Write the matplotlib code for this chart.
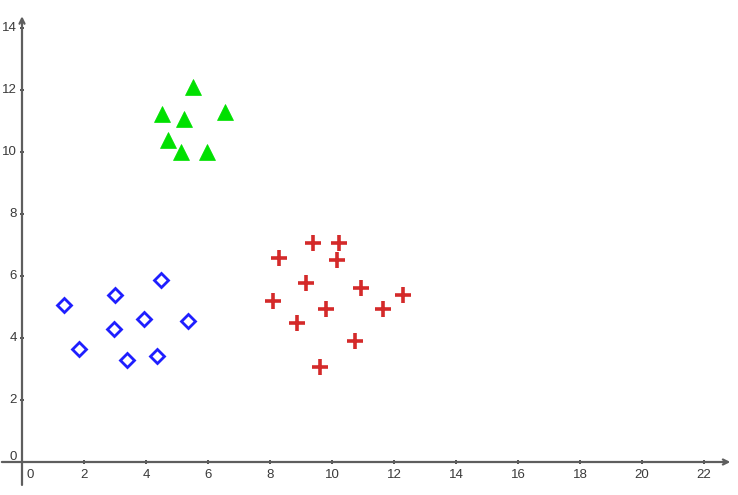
import matplotlib
matplotlib.use("Agg")
import matplotlib.pyplot as plt

# ---- data ----
blue_x = [1.36, 3.00, 4.47, 3.94, 5.35, 2.98, 1.84, 3.40, 4.35]
blue_y = [5.05, 5.39, 5.87, 4.60, 4.54, 4.28, 3.63, 3.30, 3.41]

green_x = [5.53, 4.53, 5.23, 6.54, 4.70, 5.12, 5.97]
green_y = [12.09, 11.24, 11.06, 11.30, 10.38, 9.99, 10.01]

red_x = [9.38, 10.24, 8.30, 10.15, 9.15, 10.93, 12.30, 8.09, 9.81, 11.65, 8.87, 10.75, 9.62]
red_y = [7.05, 7.08, 6.57, 6.52, 5.79, 5.62, 5.40, 5.18, 4.94, 4.94, 4.48, 3.90, 3.06]

xticks = [2, 4, 6, 8, 10, 12, 14, 16, 18, 20, 22]
yticks = [2, 4, 6, 8, 10, 12, 14]

# ---- figure ----
W, H = 738, 495
fig = plt.figure(figsize=(W / 100, H / 100), dpi=100)
ax = fig.add_axes([0, 0, 1, 1])
plt.rcParams['font.family'] = ['Liberation Sans', 'DejaVu Sans']

sx = 31.0
x0px, y0px = 22, 462
ax.set_xlim(-x0px / sx, (W - x0px) / sx)
ax.set_ylim(-(H - y0px) / sx, y0px / sx)

axis_col = '#5e5e5e'
for s in ax.spines.values():
    s.set_visible(False)

# axes lines with open arrows
xl, xr = -0.65, 22.85
yb, yt = -0.74, 14.38
ax.annotate('', xy=(xr, 0), xytext=(xl, 0),
            arrowprops=dict(arrowstyle='->', color=axis_col, lw=1.6,
                            shrinkA=0, shrinkB=0, mutation_scale=9))
ax.annotate('', xy=(0, yt), xytext=(0, yb),
            arrowprops=dict(arrowstyle='->', color=axis_col, lw=1.6,
                            shrinkA=0, shrinkB=0, mutation_scale=9))

# tick marks
ax.set_xticks([])
ax.set_yticks([])
ax.plot(xticks, [0] * len(xticks), linestyle='none', marker='|', ms=3,
        mew=1.2, color='#333333')
ax.plot([0] * len(yticks), yticks, linestyle='none', marker='_', ms=3,
        mew=1.2, color='#333333')

lab_col = '#3a3a3a'
fs = 9.5
for v in xticks:
    ax.annotate(str(v), (v, 0), xytext=(0, -7), textcoords='offset pixels',
                ha='center', va='top', fontsize=fs, color=lab_col)
for v in yticks:
    ax.annotate(str(v), (0, v), xytext=(-5, 0), textcoords='offset pixels',
                ha='right', va='center', fontsize=fs, color=lab_col)
ax.annotate('0', (0, 0), xytext=(8, -7), textcoords='offset pixels',
            ha='center', va='top', fontsize=fs, color=lab_col)
ax.annotate('0', (0, 0), xytext=(-5, 5), textcoords='offset pixels',
            ha='right', va='center', fontsize=fs, color=lab_col)

# data markers
ax.plot(blue_x, blue_y, linestyle='none', marker='D', ms=6.8,
        mfc='none', mec='#1f1fff', mew=2.0, zorder=3)
ax.plot(green_x, green_y, linestyle='none', marker='^', ms=11.5,
        mfc='#00e000', mec='#00e000', mew=0.5, zorder=3)
ax.plot(red_x, red_y, linestyle='none', marker='+', ms=11.5,
        mec='#d42a2a', mew=2.6, zorder=3)

fig.savefig('out.png', dpi=100)
